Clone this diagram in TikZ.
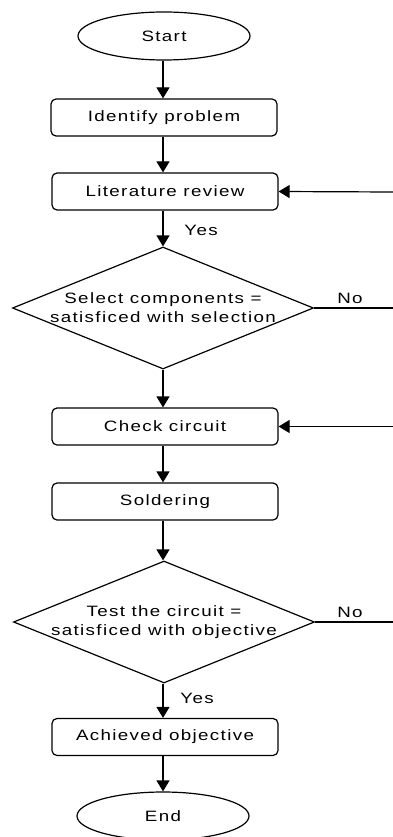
\documentclass[tikz,border=0pt]{standalone}
\usepackage{fontspec}
\setmainfont{Liberation Sans}[FakeStretch=1.25,LetterSpace=9]
\usetikzlibrary{shapes.geometric,arrows.meta}
\begin{document}
\begin{tikzpicture}[x=1pt,y=-1pt,
  every node/.style={font=\fontsize{15}{17}\selectfont, inner sep=0pt},
  flow/.style={draw, line width=1.2pt},
  term/.style={flow, ellipse, minimum width=172pt, minimum height=48pt},
  proc/.style={flow, rectangle, rounded corners=5pt, minimum width=226pt, minimum height=37pt},
  dec/.style={flow, diamond, minimum width=301pt, minimum height=122pt, aspect=2.47},
  arr/.style={line width=1.2pt, -{Triangle[width=13pt,length=11pt]}},
  ln/.style={line width=1.2pt}]
\useasboundingbox (0,0) rectangle (393,837);
\node[term] (start) at (164,36) {Start};
\node[proc] (ident) at (164,117.5) {Identify problem};
\node[proc] (lit) at (165,191.5) {Literature review};
\node[dec] (d1) at (163,308) {};
\node[align=center] (d1t) at (163,308) {Select components =\\[2pt]satisficed with selection};
\node[proc] (check) at (165,426.5) {Check circuit};
\node[proc] (sold) at (165,501.5) {Soldering};
\node[dec] (d2) at (164,622) {};
\node[align=center] (d2t) at (164,622) {Test the circuit =\\[2pt]satisficed with objective};
\node[proc] (ach) at (165,737) {Achieved objective};
\node[term] (end) at (163,816) {End};
\coordinate (r1) at (393,192);
\coordinate (r2) at (393,308);
\coordinate (r3) at (393,426.5);
\coordinate (r4) at (393,622);
\draw[arr] (start.south -| 163,0) -- (ident.north -| 163,0);
\draw[arr] (ident.south -| 163,0) -- (lit.north -| 163,0);
\draw[arr] (lit.south -| 163,0) -- (d1.north);
\draw[arr] (d1.south) -- (check.north -| 163,0);
\draw[arr] (check.south -| 163,0) -- (sold.north -| 163,0);
\draw[arr] (sold.south -| 163,0) -- (d2.north -| 163,0);
\draw[arr] (d2.south -| 163,0) -- (ach.north -| 163,0);
\draw[arr] (ach.south -| 163,0) -- (end.north -| 163,0);
\draw[arr] (r1) -- (lit.east);
\draw[arr] (r3) -- (check.east);
\draw[ln] (d1.east) -- (r2);
\draw[ln] (d2.east) -- (r4);
\node (no1) at (350,298) {No};
\node (no2) at (350,612) {No};
\node (yes1) at (201,230) {Yes};
\node (yes2) at (197,698) {Yes};
\end{tikzpicture}
\end{document}
